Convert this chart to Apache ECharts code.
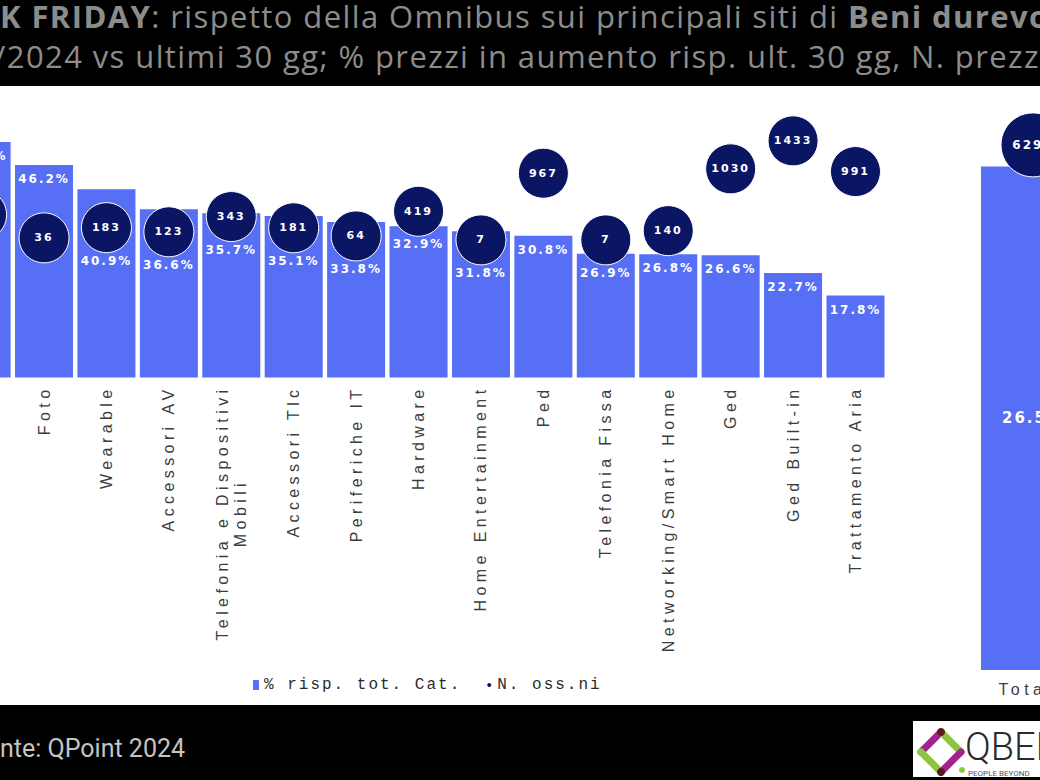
<!DOCTYPE html>
<html><head><meta charset="utf-8">
<script src="https://cdn.jsdelivr.net/npm/echarts@6/dist/echarts.min.js"></script>
<style>
html,body{margin:0;padding:0;background:#fff;overflow:hidden;}
#main{width:1040px;height:780px;}
#main text[style*="Liberation Sans"]{letter-spacing:4.4px;}
#main text[style*="DejaVu Sans"]{letter-spacing:2px;}
#main text[style*="Liberation Mono"]{letter-spacing:2px;}
#main text[style*="Open Sans"]{letter-spacing:1.4px;}
</style></head><body><div id="main"></div>
<script>
// ---- DATA ----
const categories = ['Gaming', 'Foto', 'Wearable', 'Accessori AV', 'Telefonia e Dispositivi\nMobili', 'Accessori Tlc',
  'Periferiche IT', 'Hardware', 'Home Entertainment', 'Ped', 'Telefonia Fissa', 'Networking/Smart Home',
  'Ged', 'Ged Built-in', 'Trattamento Aria'];
const pctValues = [51.2, 46.2, 40.9, 36.6, 35.7, 35.1, 33.8, 32.9, 31.8, 30.8, 26.9, 26.8, 26.6, 22.7, 17.8];
const nObs = [368, 36, 183, 123, 343, 181, 64, 419, 7, 967, 7, 140, 1030, 1433, 991];
const totalCategory = ['Totale'];
const totalPct = [26.5];
const totalObs = [6292];
const seriesNames = ['% risp. tot. Cat.', 'N. oss.ni'];
const titleLine1 = [['K FRIDAY', true], [': rispetto della Omnibus sui principali siti di ', false], ['Beni durevoli', true]];
const titleLine2 = '/2024 vs ultimi 30 gg; % prezzi in aumento risp. ult. 30 gg, N. prezzi';
const sourceText = 'nte: QPoint 2024';

// ---- STYLE ----
const BAR = '#566ff4';
const DOT = '#0a1563';
const TITLE_GRAY = '#8c8c8c';
const AX_LS = 4.4;
const TITLE_LS = 1.4;
const TITLE_SIZE = 31;

function measure(t, font) {
  const c = document.createElement('canvas').getContext('2d');
  c.font = font; return c.measureText(t).width;
}
const axFont = '16px "Liberation Sans"';
let PAD = 0;
categories.forEach(c => {
  if (c.indexOf('\n') >= 0) {
    const [a, b] = c.split('\n');
    const w1 = measure(a, axFont) + a.length * AX_LS;
    const w2 = measure(b, axFont) + b.length * AX_LS;
    PAD = (w1 - w2) / 2;
  }
});

// title segments laid out one after another (tracking included)
const titleEls = [];
let cx = 0;
titleLine1.forEach(([t, bold]) => {
  titleEls.push({type: 'text', x: cx, y: 0, style: {text: t, verticalAlign: 'top', fontFamily: 'Open Sans',
    fontWeight: bold ? 'bold' : 'normal', fontSize: TITLE_SIZE, fill: TITLE_GRAY}});
  cx += measure(t, (bold ? 'bold ' : '') + TITLE_SIZE + 'px "Open Sans"') + t.length * TITLE_LS;
});
titleEls.push({type: 'text', x: -6, y: 40, style: {text: titleLine2, verticalAlign: 'top', fontFamily: 'Open Sans',
  fontSize: TITLE_SIZE, fill: TITLE_GRAY}});

const chart = echarts.init(document.getElementById('main'), null, {renderer: 'svg'});

const dataLabel = {fontFamily: 'DejaVu Sans', fontWeight: 'bold', color: '#fff'};

const option = {
  animation: false,
  backgroundColor: '#fff',
  graphic: [
    {type: 'rect', shape: {x: 0, y: 0, width: 1040, height: 86}, style: {fill: '#000'}},
    {type: 'rect', shape: {x: 0, y: 705, width: 1040, height: 75}, style: {fill: '#000'}}
  ].concat(titleEls).concat([
    {type: 'text', x: 0, y: 748, style: {
      text: sourceText, verticalAlign: 'middle', fontFamily: 'Roboto', fontSize: 25, fill: '#c4c4c4'}},
    // logo
    {type: 'rect', shape: {x: 913, y: 721, width: 127, height: 56}, style: {fill: '#fff'}},
    {type: 'line', shape: {x1: 941, y1: 732, x2: 921, y2: 752}, style: {stroke: '#a3238e', lineWidth: 7, lineCap: 'round'}},
    {type: 'line', shape: {x1: 921, y1: 752, x2: 941, y2: 772}, style: {stroke: '#8cc63f', lineWidth: 7, lineCap: 'round'}},
    {type: 'line', shape: {x1: 941, y1: 732, x2: 961, y2: 752}, style: {stroke: '#8cc63f', lineWidth: 7, lineCap: 'round'}},
    {type: 'line', shape: {x1: 961, y1: 752, x2: 941, y2: 772}, style: {stroke: '#a3238e', lineWidth: 7, lineCap: 'round'}},
    {type: 'circle', shape: {cx: 941, cy: 732, r: 4}, style: {fill: '#5b1a22'}},
    {type: 'circle', shape: {cx: 941, cy: 772, r: 4}, style: {fill: '#5b1a22'}},
    {type: 'circle', shape: {cx: 962, cy: 770, r: 3}, style: {fill: '#8cc63f'}},
    {type: 'text', x: 965, y: 728, style: {text: 'QBERG', verticalAlign: 'top', fontFamily: 'Roboto', fontWeight: 300, fontSize: 38, fill: '#2a2a2a'}},
    {type: 'text', x: 968, y: 773, style: {text: 'PEOPLE BEYOND', verticalAlign: 'middle', fontFamily: 'Roboto', fontSize: 8, fill: '#555'}}
  ]),
  legend: {
    left: 248, top: 672, itemWidth: 6, itemHeight: 10, itemGap: 58,
    textStyle: {fontFamily: 'Liberation Mono', fontSize: 16, color: '#2b2b2b'},
    data: [{name: seriesNames[0], icon: 'rect'}, {name: seriesNames[1], icon: 'circle'}]
  },
  grid: [
    {left: -49.6, right: 153.3, top: 101.5, bottom: 402.5, outerBoundsMode: 'none', containLabel: false},
    {left: 978, width: 110, top: 100, bottom: 110, outerBoundsMode: 'none', containLabel: false}
  ],
  xAxis: [
    {type: 'category', gridIndex: 0, data: categories,
      axisLine: {show: false}, axisTick: {show: false},
      axisLabel: {rotate: 90, interval: 0, margin: 8, fontFamily: 'Liberation Sans', fontSize: 16, color: '#3d3d3d',
        formatter: function (v) {
          if (v.indexOf('\n') >= 0) { const p = v.split('\n'); return '{a|' + p[0] + '}\n{m|' + p[1] + '}'; }
          return v;
        },
        rich: {
          a: {align: 'right', fontFamily: 'Liberation Sans', fontSize: 16, color: '#3d3d3d', lineHeight: 18},
          m: {align: 'right', fontFamily: 'Liberation Sans', fontSize: 16, color: '#3d3d3d', lineHeight: 18, padding: [0, PAD, 0, 0]}
        }}},
    {type: 'category', gridIndex: 1, data: totalCategory,
      axisLine: {show: false}, axisTick: {show: false},
      axisLabel: {interval: 0, margin: 11, fontFamily: 'Liberation Sans', fontSize: 16, color: '#3d3d3d'}}
  ],
  yAxis: [
    {type: 'value', gridIndex: 0, min: 0, max: 60, show: false},
    {type: 'value', gridIndex: 0, min: -1975, max: 2000, show: false},
    {type: 'value', gridIndex: 1, min: 0, max: 30, show: false},
    {type: 'value', gridIndex: 1, min: 0, max: 6830, show: false}
  ],
  series: [
    {id: 'bars', name: seriesNames[0], type: 'bar', xAxisIndex: 0, yAxisIndex: 0, data: pctValues,
      barWidth: 58, itemStyle: {color: BAR},
      label: Object.assign({show: true, position: 'insideTop', distance: 8, fontSize: 12,
        formatter: p => Number(p.value).toFixed(1) + '%'}, dataLabel)},
    {id: 'dots', name: seriesNames[1], type: 'scatter', xAxisIndex: 0, yAxisIndex: 1, data: nObs,
      symbol: 'circle', symbolSize: 50, z: 4,
      itemStyle: {color: DOT, borderColor: '#fff', borderWidth: 1, opacity: 1},
      label: Object.assign({show: true, position: 'inside', fontSize: 11, formatter: '{c}'}, dataLabel)},
    {id: 'totBar', name: seriesNames[0], type: 'bar', xAxisIndex: 1, yAxisIndex: 2, data: totalPct,
      barWidth: 104, itemStyle: {color: BAR},
      label: Object.assign({show: true, position: 'inside', fontSize: 15,
        formatter: p => Number(p.value).toFixed(1) + '%'}, dataLabel)},
    {id: 'totDot', name: seriesNames[1], type: 'scatter', xAxisIndex: 1, yAxisIndex: 3, data: totalObs,
      symbol: 'circle', symbolSize: 64, z: 4,
      itemStyle: {color: DOT, borderColor: '#fff', borderWidth: 1, opacity: 1},
      label: Object.assign({show: true, position: 'inside', fontSize: 12, formatter: '{c}'}, dataLabel)}
  ]
};
chart.setOption(option);

// place bar value labels: at top of bar, or below the circle when the circle covers the bar top
const R = 25;
const barData = pctValues.map((v, i) => {
  const top = chart.convertToPixel({seriesIndex: 0}, [i, v])[1];
  const cy = chart.convertToPixel({seriesIndex: 1}, [i, nObs[i]])[1];
  const base = top + 14;
  let want = base;
  if (!(cy - R >= top + 20)) want = Math.max(base, cy + 33);
  return {value: v, label: {offset: [0, want - base]}};
});
chart.setOption({series: [{id: 'bars', data: barData}]});
</script>
</body></html>
